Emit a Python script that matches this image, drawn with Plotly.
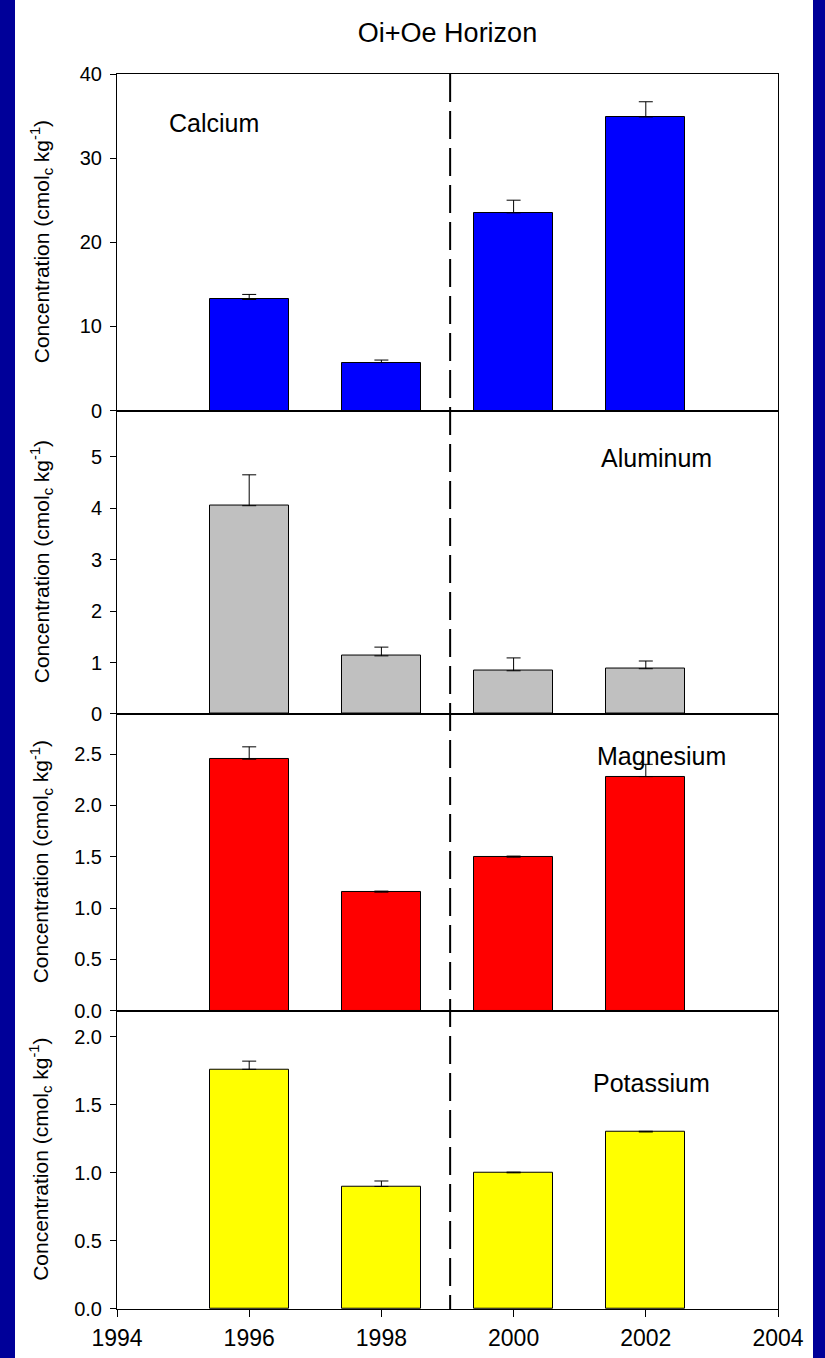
import plotly.graph_objects as go

# ---- data ----
years = [1996, 1998, 2000, 2002]
calcium = [13.2, 5.7, 23.5, 34.9]
calcium_err = [0.6, 0.3, 1.5, 1.8]
aluminum = [4.05, 1.13, 0.84, 0.88]
aluminum_err = [0.6, 0.17, 0.25, 0.15]
magnesium = [2.45, 1.155, 1.496, 2.28]
magnesium_err = [0.12, 0.01, 0.01, 0.12]
potassium = [1.76, 0.90, 1.0, 1.30]
potassium_err = [0.06, 0.04, 0.005, 0.005]
x_ticks = [1994, 1996, 1998, 2000, 2002, 2004]
divider_year = 1999.04

panels = [
    ("Calcium", calcium, calcium_err, "#0000FF", [0, 40], [0, 10, 20, 30, 40], None, (1995.46, 34.2)),
    ("Aluminum", aluminum, aluminum_err, "#C0C0C0", [0, 5.9], [0, 1, 2, 3, 4, 5], None, (2002.16, 4.98)),
    ("Magnesium", magnesium, magnesium_err, "#FF0000", [0, 2.89], [0, 0.5, 1.0, 1.5, 2.0, 2.5], ".1f", (2002.24, 2.48)),
    ("Potassium", potassium, potassium_err, "#FFFF00", [0, 2.19], [0, 0.5, 1.0, 1.5, 2.0], ".1f", (2002.08, 1.66)),
]

domains = [[0.7275, 1.0], [0.4818, 0.7275], [0.2415, 0.4818], [0.0, 0.2415]]

FONT = "Arial, Liberation Sans, sans-serif"
fig = go.Figure()
layout = dict(
    width=825, height=1358,
    margin=dict(l=117, r=47, t=74, b=49, autoexpand=False),
    paper_bgcolor="white", plot_bgcolor="white",
    showlegend=False,
    font=dict(family=FONT, color="black"),
    bargap=0,
)
annotations = []
for i, (name, vals, errs, color, yr, ticks, fmt, pos) in enumerate(panels):
    n = i + 1
    xa = "x" if n == 1 else f"x{n}"
    ya = "y" if n == 1 else f"y{n}"
    fig.add_trace(go.Bar(
        x=years, y=vals, width=1.2, xaxis=xa, yaxis=ya,
        marker=dict(color=color, line=dict(color="black", width=1)),
        error_y=dict(type="data", symmetric=False, array=errs, arrayminus=[0] * len(errs),
                     color="black", thickness=1, width=7),
    ))
    xkey = "xaxis" if n == 1 else f"xaxis{n}"
    ykey = "yaxis" if n == 1 else f"yaxis{n}"
    last = (n == 4)
    layout[xkey] = dict(
        range=[1994, 2004], domain=[0, 1], anchor=ya, automargin=False,
        showline=True, mirror=True, linecolor="black", linewidth=1,
        showgrid=False, zeroline=False,
        tickvals=x_ticks if last else [],
        ticks="outside" if last else "", ticklen=7, tickcolor="black",
        showticklabels=last, tickfont=dict(size=23, family=FONT, color="black"),
        ticklabelstandoff=1,
    )
    if n > 1:
        layout[xkey]["matches"] = "x"
    ydict = dict(
        range=yr, domain=domains[i], anchor=xa, automargin=False,
        showline=True, mirror=True, linecolor="black", linewidth=1,
        showgrid=False, zeroline=False,
        tickvals=ticks, ticks="outside", ticklen=6, tickcolor="black",
        tickfont=dict(size=20, family=FONT, color="black"),
        ticklabelstandoff=4,
    )
    if fmt:
        ydict["tickformat"] = fmt
    layout[ykey] = ydict
    annotations.append(dict(
        text=name, x=pos[0], y=pos[1], xref=xa, yref=ya, showarrow=False,
        font=dict(size=25, family=FONT, color="black"), xanchor="center", yanchor="middle",
    ))
    annotations.append(dict(
        text="Concentration (cmol<sub>c</sub> kg<sup>-1</sup>)",
        x=(41 - 117) / 661, y=0.5, xref="paper", yref=f"{ya} domain",
        textangle=-90, showarrow=False, xanchor="center", yanchor="middle",
        font=dict(size=21, family=FONT, color="black"),
    ))

layout["annotations"] = annotations
layout["title"] = dict(text="Oi+Oe Horizon", x=0.5, xref="paper", xanchor="center",
                       y=1 - 33 / 1358, yref="container", yanchor="middle",
                       font=dict(size=27, family=FONT, color="black"))
layout["shapes"] = [
    dict(type="rect", xref="paper", yref="paper", x0=-0.2, x1=(15 - 117) / 661,
         y0=-0.1, y1=1.1, fillcolor="#000099", line=dict(width=0), layer="below"),
    dict(type="rect", xref="paper", yref="paper", x0=(813 - 117) / 661, x1=1.2,
         y0=-0.1, y1=1.1, fillcolor="#000099", line=dict(width=0), layer="below"),
    dict(type="line", xref="x4", yref="paper", x0=divider_year, x1=divider_year,
         y0=1, y1=0, line=dict(color="black", width=2, dash="28px,9px")),
]
fig.update_layout(**layout)
fig.write_html("out.html", config={"displayModeBar": False})

# remove default page margin so the figure sits at the window origin
with open("out.html", "r", encoding="utf-8") as f:
    html = f.read()
html = html.replace("<head>", "<head><style>html,body{margin:0;padding:0;overflow:hidden;}</style>", 1)
with open("out.html", "w", encoding="utf-8") as f:
    f.write(html)
